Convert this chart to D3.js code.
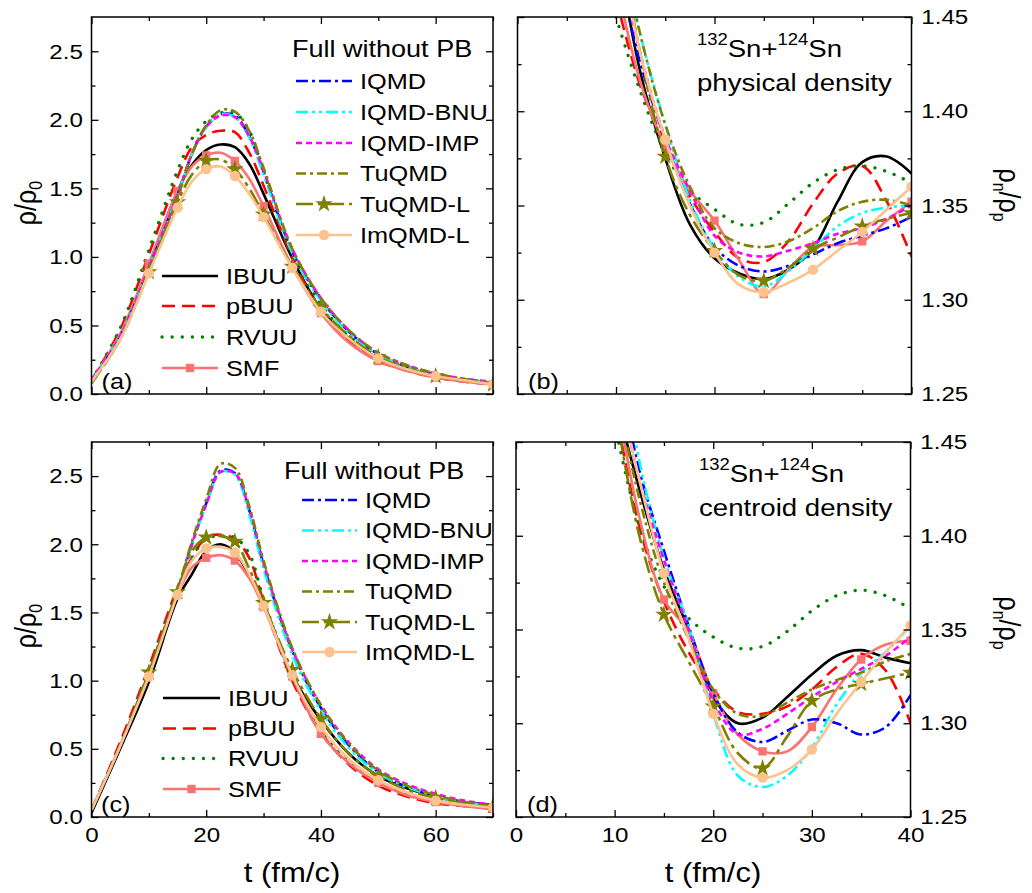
<!DOCTYPE html>
<html><head><meta charset="utf-8">
<script src="https://cdn.jsdelivr.net/npm/d3@7"></script>
<style>
html,body{margin:0;padding:0;background:#fff;}
svg{display:block;font-family:"Liberation Sans",Arial,Helvetica,sans-serif;}
</style></head><body>
<svg id="chart" width="1032" height="893"></svg>
<script>
// ---------------- DATA ----------------
const seriesKeys = ["IBUU","pBUU","RVUU","SMF","IQMD","IQMD-BNU","IQMD-IMP","TuQMD","TuQMD-L","ImQMD-L"];
const leftLegendKeys = ["IBUU","pBUU","RVUU","SMF"];
const rightLegendKeys = ["IQMD","IQMD-BNU","IQMD-IMP","TuQMD","TuQMD-L","ImQMD-L"];

// time grids (fm/c)
const tAC = [0,5,10,15,17.5,20,22.5,25,27.5,30,35,40,45,50,55,60,65,70];
const tBD = [10,12.5,15,17.5,20,22.5,25,27.5,30,32.5,35,37.5,40];

// panel (a): rho/rho0, physical density
const a_IBUU   = [0.10,0.42,0.94,1.48,1.67,1.78,1.82,1.80,1.68,1.46,0.99,0.62,0.40,0.26,0.18,0.13,0.10,0.08];
const a_pBUU   = [0.10,0.47,1.02,1.58,1.80,1.89,1.92,1.91,1.76,1.52,1.00,0.60,0.38,0.24,0.17,0.12,0.09,0.07];
const a_RVUU   = [0.10,0.48,1.05,1.63,1.86,1.99,2.05,2.05,1.92,1.62,1.03,0.65,0.42,0.28,0.20,0.14,0.10,0.08];
const a_SMF    = [0.10,0.44,0.95,1.48,1.66,1.74,1.76,1.70,1.57,1.37,0.93,0.59,0.37,0.24,0.17,0.12,0.09,0.07];
const a_IQMD   = [0.10,0.42,0.92,1.45,1.75,1.95,2.04,2.03,1.88,1.62,1.04,0.69,0.45,0.29,0.20,0.14,0.11,0.08];
const a_BNU    = [0.10,0.42,0.92,1.45,1.75,1.95,2.04,2.02,1.87,1.60,1.03,0.68,0.44,0.29,0.20,0.14,0.11,0.08];
const a_IMP    = [0.10,0.42,0.92,1.45,1.75,1.95,2.03,2.02,1.88,1.63,1.06,0.70,0.46,0.30,0.21,0.15,0.11,0.09];
const a_TuQMD  = [0.08,0.40,0.90,1.43,1.75,1.96,2.07,2.06,1.92,1.65,1.06,0.70,0.46,0.30,0.21,0.15,0.11,0.08];
const a_TuQMDL = [0.08,0.40,0.89,1.40,1.60,1.70,1.71,1.64,1.50,1.31,0.93,0.63,0.42,0.27,0.19,0.13,0.10,0.07];
const a_ImQMDL = [0.09,0.40,0.88,1.36,1.55,1.64,1.66,1.59,1.46,1.29,0.92,0.60,0.40,0.26,0.18,0.13,0.10,0.07];

// panel (c): rho/rho0, centroid density
const c_IBUU   = [0.03,0.50,0.99,1.60,1.78,1.95,2.00,1.94,1.77,1.56,1.04,0.71,0.46,0.30,0.21,0.15,0.11,0.09];
const c_pBUU   = [0.05,0.55,1.10,1.68,1.90,2.05,2.07,2.04,1.90,1.58,1.00,0.62,0.38,0.23,0.15,0.10,0.08,0.06];
const c_RVUU   = [0.05,0.53,1.08,1.66,1.90,2.04,2.06,2.05,1.93,1.60,1.02,0.64,0.40,0.25,0.17,0.12,0.09,0.07];
const c_SMF    = [0.05,0.52,1.05,1.63,1.83,1.90,1.92,1.88,1.75,1.54,1.03,0.61,0.39,0.25,0.16,0.11,0.08,0.06];
const c_IQMD   = [0.05,0.52,1.06,1.65,2.00,2.30,2.54,2.52,2.25,1.85,1.22,0.80,0.52,0.33,0.22,0.15,0.11,0.08];
const c_BNU    = [0.05,0.52,1.06,1.65,2.00,2.29,2.53,2.51,2.22,1.82,1.19,0.78,0.50,0.32,0.22,0.15,0.11,0.08];
const c_IMP    = [0.05,0.52,1.06,1.65,2.00,2.29,2.53,2.52,2.26,1.86,1.23,0.82,0.54,0.35,0.24,0.17,0.12,0.09];
const c_TuQMD  = [0.05,0.52,1.07,1.67,2.02,2.33,2.59,2.56,2.28,1.88,1.24,0.82,0.53,0.34,0.23,0.16,0.11,0.08];
const c_TuQMDL = [0.05,0.52,1.06,1.65,1.95,2.05,2.06,2.02,1.82,1.57,1.08,0.72,0.46,0.30,0.20,0.14,0.10,0.08];
const c_ImQMDL = [0.05,0.52,1.03,1.63,1.88,1.97,1.98,1.94,1.78,1.55,1.04,0.66,0.42,0.27,0.18,0.12,0.09,0.07];

// panel (b): rho_n/rho_p, physical density
const b_IBUU   = [1.49,1.42,1.375,1.340,1.322,1.314,1.311,1.316,1.327,1.352,1.373,1.376,1.367];
const b_pBUU   = [1.46,1.413,1.383,1.355,1.336,1.322,1.320,1.331,1.351,1.367,1.371,1.352,1.323];
const b_RVUU   = [1.45,1.410,1.378,1.358,1.348,1.340,1.341,1.351,1.362,1.369,1.371,1.368,1.362];
const b_SMF    = [1.47,1.415,1.381,1.358,1.342,1.321,1.303,1.316,1.328,1.329,1.331,1.342,1.352];
const b_IQMD   = [1.48,1.425,1.385,1.351,1.328,1.318,1.315,1.318,1.324,1.330,1.334,1.338,1.344];
const b_BNU    = [1.50,1.44,1.393,1.353,1.327,1.312,1.307,1.315,1.327,1.339,1.346,1.349,1.350];
const b_IMP    = [1.49,1.43,1.386,1.358,1.334,1.325,1.323,1.326,1.330,1.335,1.338,1.343,1.350];
const b_TuQMD  = [1.50,1.44,1.393,1.360,1.338,1.330,1.328,1.331,1.338,1.347,1.352,1.353,1.350];
const b_TuQMDL = [1.50,1.43,1.376,1.345,1.326,1.313,1.310,1.317,1.327,1.333,1.339,1.343,1.346];
const b_ImQMDL = [1.50,1.43,1.385,1.350,1.325,1.308,1.304,1.309,1.316,1.326,1.336,1.348,1.360];

// panel (d): rho_n/rho_p, centroid density
const d_IBUU   = [1.475,1.425,1.382,1.350,1.314,1.300,1.303,1.314,1.326,1.336,1.339,1.335,1.332];
const d_pBUU   = [1.47,1.405,1.365,1.338,1.318,1.306,1.305,1.309,1.318,1.330,1.337,1.328,1.300];
const d_RVUU   = [1.46,1.405,1.373,1.356,1.346,1.340,1.341,1.349,1.360,1.368,1.371,1.368,1.361];
const d_SMF    = [1.48,1.41,1.366,1.349,1.316,1.294,1.285,1.285,1.298,1.318,1.334,1.342,1.344];
const d_IQMD   = [1.50,1.435,1.392,1.352,1.316,1.295,1.290,1.296,1.302,1.300,1.294,1.298,1.315];
const d_BNU    = [1.52,1.44,1.388,1.352,1.305,1.272,1.266,1.272,1.287,1.310,1.327,1.338,1.352];
const d_IMP    = [1.49,1.43,1.387,1.350,1.312,1.294,1.297,1.305,1.314,1.322,1.329,1.336,1.346];
const d_TuQMD  = [1.48,1.42,1.375,1.345,1.318,1.305,1.304,1.311,1.318,1.323,1.327,1.333,1.337];
const d_TuQMDL = [1.47,1.400,1.358,1.333,1.309,1.284,1.276,1.293,1.312,1.318,1.321,1.324,1.327];
const d_ImQMDL = [1.49,1.43,1.380,1.345,1.305,1.278,1.271,1.275,1.286,1.305,1.322,1.338,1.352];

// tick values
const xMajorAC = [0,20,40,60], xMinorAC = [10,30,50,70];
const yMajorAC = [0,0.5,1.0,1.5,2.0,2.5], yMinorAC = [0.25,0.75,1.25,1.75,2.25];
const xMajorBD = [0,10,20,30,40], xMinorBD = [5,15,25,35];
const yMajorBD = [1.25,1.30,1.35,1.40,1.45], yMinorBD = [1.275,1.325,1.375,1.425];
// times at which symbols are drawn
const markerTimes = [10,15,20,25,30,35,40,50,60,70];

// ---------------- STYLES ----------------
const styles = {
  "IBUU":     {color:"#000000", dash:null},
  "pBUU":     {color:"#ff0000", dash:"13,7"},
  "RVUU":     {color:"#008000", dash:"0.1,10", cap:"round", width:3.3},
  "SMF":      {color:"#fa7272", dash:null, marker:"square"},
  "IQMD":     {color:"#0000ff", dash:"12,4,3,4"},
  "IQMD-BNU": {color:"#00ffff", dash:"12,4,3,4,3,4"},
  "IQMD-IMP": {color:"#ff00ff", dash:"6,4"},
  "TuQMD":    {color:"#808000", dash:"10,4,3,4"},
  "TuQMD-L":  {color:"#808000", dash:"17,5,4,5", marker:"star"},
  "ImQMD-L":  {color:"#fdc28e", dash:null, marker:"circle"}
};
const SX = 1.15;         // horizontal stretch of the original figure's text
const LW = 2.6;

const svg = d3.select("#chart");

function buildSeries(tv, arrs){
  const o = {};
  seriesKeys.forEach((k,i)=>{ o[k] = tv.map((t,j)=>({t, v:arrs[i][j]})); });
  return o;
}

const panels = [
  {id:"a", x0:91.5, x1:493, y0:17, y1:394, xDom:[0,70], yDom:[0,2.75], side:"left", xLab:false,
   xMaj:xMajorAC, xMin:xMinorAC, yMaj:yMajorAC, yMin:yMinorAC, yFmt:d3.format(".1f"),
   series: buildSeries(tAC,[a_IBUU,a_pBUU,a_RVUU,a_SMF,a_IQMD,a_BNU,a_IMP,a_TuQMD,a_TuQMDL,a_ImQMDL])},
  {id:"b", x0:517.5, x1:911.5, y0:17, y1:394, xDom:[0,40], yDom:[1.25,1.45], side:"right", xLab:false,
   xMaj:xMajorBD, xMin:xMinorBD, yMaj:yMajorBD, yMin:yMinorBD, yFmt:d3.format(".2f"),
   series: buildSeries(tBD,[b_IBUU,b_pBUU,b_RVUU,b_SMF,b_IQMD,b_BNU,b_IMP,b_TuQMD,b_TuQMDL,b_ImQMDL])},
  {id:"c", x0:91.5, x1:493, y0:442, y1:817, xDom:[0,70], yDom:[0,2.75], side:"left", xLab:true,
   xMaj:xMajorAC, xMin:xMinorAC, yMaj:yMajorAC, yMin:yMinorAC, yFmt:d3.format(".1f"),
   series: buildSeries(tAC,[c_IBUU,c_pBUU,c_RVUU,c_SMF,c_IQMD,c_BNU,c_IMP,c_TuQMD,c_TuQMDL,c_ImQMDL])},
  {id:"d", x0:516, x1:910.5, y0:442, y1:817, xDom:[0,40], yDom:[1.25,1.45], side:"right", xLab:true,
   xMaj:xMajorBD, xMin:xMinorBD, yMaj:yMajorBD, yMin:yMinorBD, yFmt:d3.format(".2f"),
   series: buildSeries(tBD,[d_IBUU,d_pBUU,d_RVUU,d_SMF,d_IQMD,d_BNU,d_IMP,d_TuQMD,d_TuQMDL,d_ImQMDL])}
];

function markerPath(type, size){
  const t = type==="square" ? d3.symbolSquare : type==="star" ? d3.symbolStar : d3.symbolCircle;
  return d3.symbol().type(t).size(size)();
}
const markerSize = {square:70, star:95, circle:85};

function txt(g, x, y, s, size, anchor){
  return g.append("text").attr("transform",`translate(${x},${y}) scale(${SX},1)`)
    .attr("font-size", size).attr("text-anchor", anchor||"start").attr("fill","#000").text(s);
}

function styleAxis(sel){
  sel.select(".domain").remove();
  sel.selectAll(".tick line").attr("stroke","#000").attr("stroke-width",1.3);
  sel.selectAll(".tick text").attr("font-size",21).attr("fill","#000")
     .attr("font-family",'"Liberation Sans",Arial,sans-serif')
     .attr("transform",`scale(${SX},1)`);
  sel.attr("font-family",null).attr("font-size",null);
}

panels.forEach(p=>{
  const W = p.x1-p.x0, H = p.y1-p.y0;
  const x = d3.scaleLinear().domain(p.xDom).range([0,W]);
  const y = d3.scaleLinear().domain(p.yDom).range([H,0]);
  const g = svg.append("g").attr("transform",`translate(${p.x0},${p.y0})`);

  g.append("clipPath").attr("id","clip-"+p.id).append("rect").attr("width",W).attr("height",H);
  const plot = g.append("g").attr("clip-path",`url(#clip-${p.id})`);

  const line = d3.line().x(d=>x(d.t)).y(d=>y(d.v)).curve(d3.curveCatmullRom.alpha(0.5));

  seriesKeys.forEach(k=>{
    const st = styles[k], data = p.series[k];
    plot.append("path").datum(data).attr("d",line).attr("fill","none")
      .attr("stroke",st.color).attr("stroke-width",st.width||LW)
      .attr("stroke-dasharray",st.dash).attr("stroke-linecap", st.cap||"butt")
      .attr("stroke-linejoin","round");
    if(st.marker){
      const pts = data.filter(d=> markerTimes.includes(d.t));
      plot.selectAll(null).data(pts).enter().append("path")
        .attr("d", markerPath(st.marker, markerSize[st.marker]))
        .attr("transform",d=>`translate(${x(d.t)},${y(d.v)})`)
        .attr("fill",st.color).attr("stroke","none");
    }
  });

  // axes (inward ticks on all four sides)
  const mk = (ax, vals, len, fmt, pad) => ax.tickValues(vals).tickSize(len).tickSizeOuter(0)
        .tickFormat(fmt || (()=>"")).tickPadding(pad||8);
  const bottom = g.append("g").attr("transform",`translate(0,${H})`);
  bottom.append("g").call(mk(d3.axisBottom(x), p.xMaj, -7, p.xLab? d3.format("d"):null, 10)).call(styleAxis);
  bottom.append("g").call(mk(d3.axisBottom(x), p.xMin, -4)).call(styleAxis);
  const top = g.append("g");
  top.append("g").call(mk(d3.axisTop(x), p.xMaj, -7)).call(styleAxis);
  top.append("g").call(mk(d3.axisTop(x), p.xMin, -4)).call(styleAxis);
  const left = g.append("g");
  left.append("g").call(mk(d3.axisLeft(y), p.yMaj, -7, p.side==="left"? p.yFmt:null, 7.5)).call(styleAxis);
  left.append("g").call(mk(d3.axisLeft(y), p.yMin, -4)).call(styleAxis);
  const right = g.append("g").attr("transform",`translate(${W},0)`);
  right.append("g").call(mk(d3.axisRight(y), p.yMaj, -7, p.side==="right"? p.yFmt:null, 8.5)).call(styleAxis);
  right.append("g").call(mk(d3.axisRight(y), p.yMin, -4)).call(styleAxis);

  g.append("rect").attr("width",W).attr("height",H).attr("fill","none")
    .attr("stroke","#000").attr("stroke-width",1.5);
});

// ---------------- LEGENDS ----------------
function legendEntry(key, xl0, xl1, xt, yc, fs){
  const st = styles[key];
  svg.append("line").attr("x1",xl0).attr("x2",xl1).attr("y1",yc).attr("y2",yc)
    .attr("stroke",st.color).attr("stroke-width",st.width||LW).attr("stroke-dasharray",st.dash)
    .attr("stroke-linecap", st.cap||"butt");
  if(st.marker){
    svg.append("path").attr("d",markerPath(st.marker, markerSize[st.marker]))
      .attr("transform",`translate(${(xl0+xl1)/2},${yc})`).attr("fill",st.color);
  }
  txt(svg, xt, yc+fs*0.36, key, fs);
}
function legends(hdrX, hdrY, rx0, rx1, rxt, rRows, lx0, lx1, lxt, lRows){
  txt(svg, hdrX, hdrY, "Full without PB", 23.5);
  rightLegendKeys.forEach((k,i)=>legendEntry(k, rx0, rx1, rxt, rRows[i], 22));
  leftLegendKeys.forEach((k,i)=>legendEntry(k, lx0, lx1, lxt, lRows[i], 22));
}
legends(292, 57, 296, 352, 360, [81,112,143,173.5,204,235], 162, 218, 226, [276,306,337,368]);
legends(284, 479, 302, 357, 365, [500,530.5,561,591.5,622,652], 163, 220, 228, [698,728.5,758.5,789]);

// panel labels
txt(svg, 101.5, 388.5, "(a)", 22);
txt(svg, 528, 388.5, "(b)", 22);
txt(svg, 101, 811.5, "(c)", 22);
txt(svg, 527, 811.5, "(d)", 22);

// reaction system labels
function sysLabel(x, yb, second){
  const t = svg.append("text").attr("transform",`translate(${x},${yb}) scale(${SX},1)`).attr("fill","#000");
  t.append("tspan").attr("font-size",16).attr("dy",-12).text("132");
  t.append("tspan").attr("font-size",24).attr("dy",12).text("Sn+");
  t.append("tspan").attr("font-size",16).attr("dy",-12).text("124");
  t.append("tspan").attr("font-size",24).attr("dy",12).text("Sn");
  txt(svg, x, yb+34, second, 24);
}
sysLabel(697, 57, "physical density");
sysLabel(699, 482, "centroid density");

// axis titles
function rhoLeft(yc){
  const t = svg.append("text").attr("transform",`translate(36,${yc}) rotate(-90) scale(1,${SX})`)
    .attr("text-anchor","middle").attr("font-size",25).attr("fill","#000");
  t.append("tspan").text("ρ/ρ");
  t.append("tspan").attr("font-size",16).attr("dy",5).text("0");
}
function rhoRight(yc){
  const t = svg.append("text").attr("transform",`translate(999,${yc}) rotate(90) scale(1,${SX})`)
    .attr("text-anchor","middle").attr("font-size",25).attr("fill","#000");
  t.append("tspan").text("ρ");
  t.append("tspan").attr("font-size",16).attr("dy",5).text("n");
  t.append("tspan").attr("dy",-5).text("/ρ");
  t.append("tspan").attr("font-size",16).attr("dy",5).text("p");
}
rhoLeft(203); rhoLeft(626);
rhoRight(195); rhoRight(623);
txt(svg, 292, 882, "t (fm/c)", 27, "middle");
txt(svg, 713, 882, "t (fm/c)", 27, "middle");
</script></body></html>
